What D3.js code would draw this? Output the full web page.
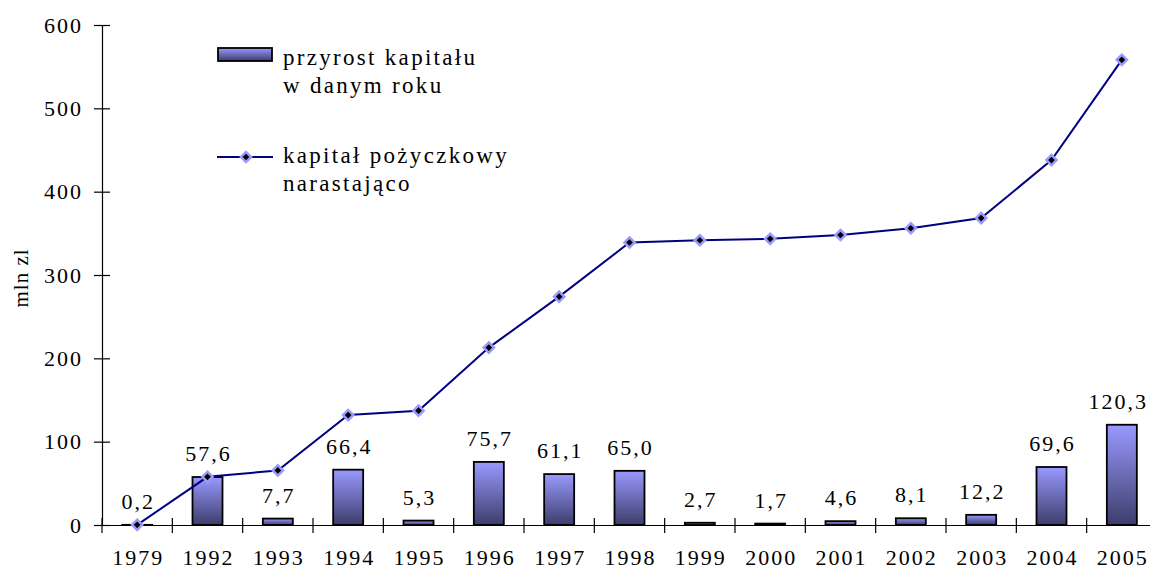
<!DOCTYPE html>
<html>
<head>
<meta charset="utf-8">
<script src="https://cdn.jsdelivr.net/npm/d3@7"></script>
<style>
  body{margin:0;background:#fff;}
  text{font-family:"Liberation Serif","Times New Roman",serif;fill:#000;}
</style>
</head>
<body>
<div id="chart"></div>
<script>
// lata
var years = ["1979","1992","1993","1994","1995","1996","1997","1998","1999","2000","2001","2002","2003","2004","2005"];
// przyrost kapitalu w danym roku
var growth = [0.2,57.6,7.7,66.4,5.3,75.7,61.1,65.0,2.7,1.7,4.6,8.1,12.2,69.6,120.3];
// kapital pozyczkowy narastajaco
var cumulative = [0.2,57.8,65.5,131.9,137.2,212.9,274.0,339.0,341.7,343.4,348.0,356.1,368.3,437.9,558.2];
var yTicks = [0,100,200,300,400,500,600];

var W = 1150, H = 570;
var margin = {top:25, right:-7, bottom:45, left:102};
var width = W - margin.left - margin.right,
    height = H - margin.top - margin.bottom;

var svg = d3.select("#chart").append("svg")
  .attr("width", W).attr("height", H);

var defs = svg.append("defs");
var grad = defs.append("linearGradient").attr("id","barGrad")
  .attr("x1",0).attr("y1",0).attr("x2",0).attr("y2",1);
grad.append("stop").attr("offset","0%").attr("stop-color","#9999ff");
grad.append("stop").attr("offset","100%").attr("stop-color","#3d3d6b");

var g = svg.append("g").attr("transform","translate("+margin.left+","+margin.top+")");

var x = d3.scaleBand().domain(years).range([0,width]).paddingInner(0).paddingOuter(0);
var y = d3.scaleLinear().domain([0,600]).range([height,0]);

function styleText(sel){
  sel.style("font-size","22px").style("font-family","Liberation Serif").style("letter-spacing","2px");
}

// y axis
var yAxis = d3.axisLeft(y).tickValues(yTicks).tickSize(0).tickPadding(19);
var gy = g.append("g").call(yAxis);
gy.select(".domain").attr("stroke","#000").attr("stroke-width",1.2);
gy.selectAll(".tick text").call(styleText);
gy.selectAll(".tick").append("line").attr("x1",-8).attr("x2",8).attr("stroke","#000").attr("stroke-width",1.2);

// x axis
var xAxis = d3.axisBottom(x).tickSize(0).tickPadding(24);
var gx = g.append("g").attr("transform","translate(0,"+height+")").call(xAxis);
gx.select(".domain").attr("stroke","#000").attr("stroke-width",1.2);
gx.selectAll(".tick text").call(styleText).attr("dx","1px");
gx.selectAll(".sep").data(years).enter().append("line")
  .attr("x1",function(d){return x(d);}).attr("x2",function(d){return x(d);})
  .attr("y1",-7).attr("y2",8).attr("stroke","#000").attr("stroke-width",1.2);

// bars
var bw = 30;
g.selectAll(".bar").data(growth).enter().append("rect")
  .attr("class","bar")
  .attr("x",function(d,i){return x(years[i])+x.bandwidth()/2-bw/2;})
  .attr("y",function(d){return y(d);})
  .attr("width",bw)
  .attr("height",function(d){return height-y(d);})
  .attr("fill","url(#barGrad)")
  .attr("stroke","#000").attr("stroke-width",1.8);

var maxRight = W - margin.left - 2;
g.selectAll(".lbl").data(growth).enter().append("text")
  .attr("y",function(d){return y(d)-16;})
  .attr("text-anchor","middle")
  .call(styleText)
  .text(function(d){return d.toFixed(1).replace(".",",");})
  .attr("x",function(d,i){
    var cx = x(years[i])+x.bandwidth()/2+1;
    var half = this.getComputedTextLength()/2;
    return Math.min(cx, maxRight-half);   // keep last label inside the page
  });

// line
var line = d3.line()
  .x(function(d,i){return x(years[i])+x.bandwidth()/2;})
  .y(function(d){return y(d);});
g.append("path").datum(cumulative).attr("d",line)
  .attr("fill","none").attr("stroke","#000080").attr("stroke-width",2);

var diamond = d3.symbol().type(d3.symbolSquare).size(52);
g.selectAll(".pt").data(cumulative).enter().append("path")
  .attr("transform",function(d,i){return "translate("+(x(years[i])+x.bandwidth()/2)+","+y(d)+") rotate(45)";})
  .attr("d",diamond).attr("fill","#000").attr("stroke","#9999ff").attr("stroke-width",2.5);

// y title
svg.append("text").attr("transform","translate(28,278) rotate(-90)")
  .attr("text-anchor","middle").style("font-size","21px").style("letter-spacing","1px").text("mln zl");

// legend
var leg = svg.append("g");
leg.append("rect").attr("x",218).attr("y",48).attr("width",54).attr("height",13)
  .attr("fill","url(#barGrad)").attr("stroke","#000").attr("stroke-width",1.8);
leg.append("line").attr("x1",217).attr("x2",273).attr("y1",157).attr("y2",157)
  .attr("stroke","#000080").attr("stroke-width",2);
leg.append("path").attr("transform","translate(246,157) rotate(45)").attr("d",diamond)
  .attr("fill","#000").attr("stroke","#9999ff").attr("stroke-width",2.5);
var legText = [["przyrost kapitału",65],["w danym roku",93],["kapitał pożyczkowy",163],["narastająco",191]];
leg.selectAll(".lt").data(legText).enter().append("text")
  .attr("x",283).attr("y",function(d){return d[1];})
  .style("font-size","23px").style("letter-spacing","2.3px")
  .text(function(d){return d[0];});
</script>
</body>
</html>
